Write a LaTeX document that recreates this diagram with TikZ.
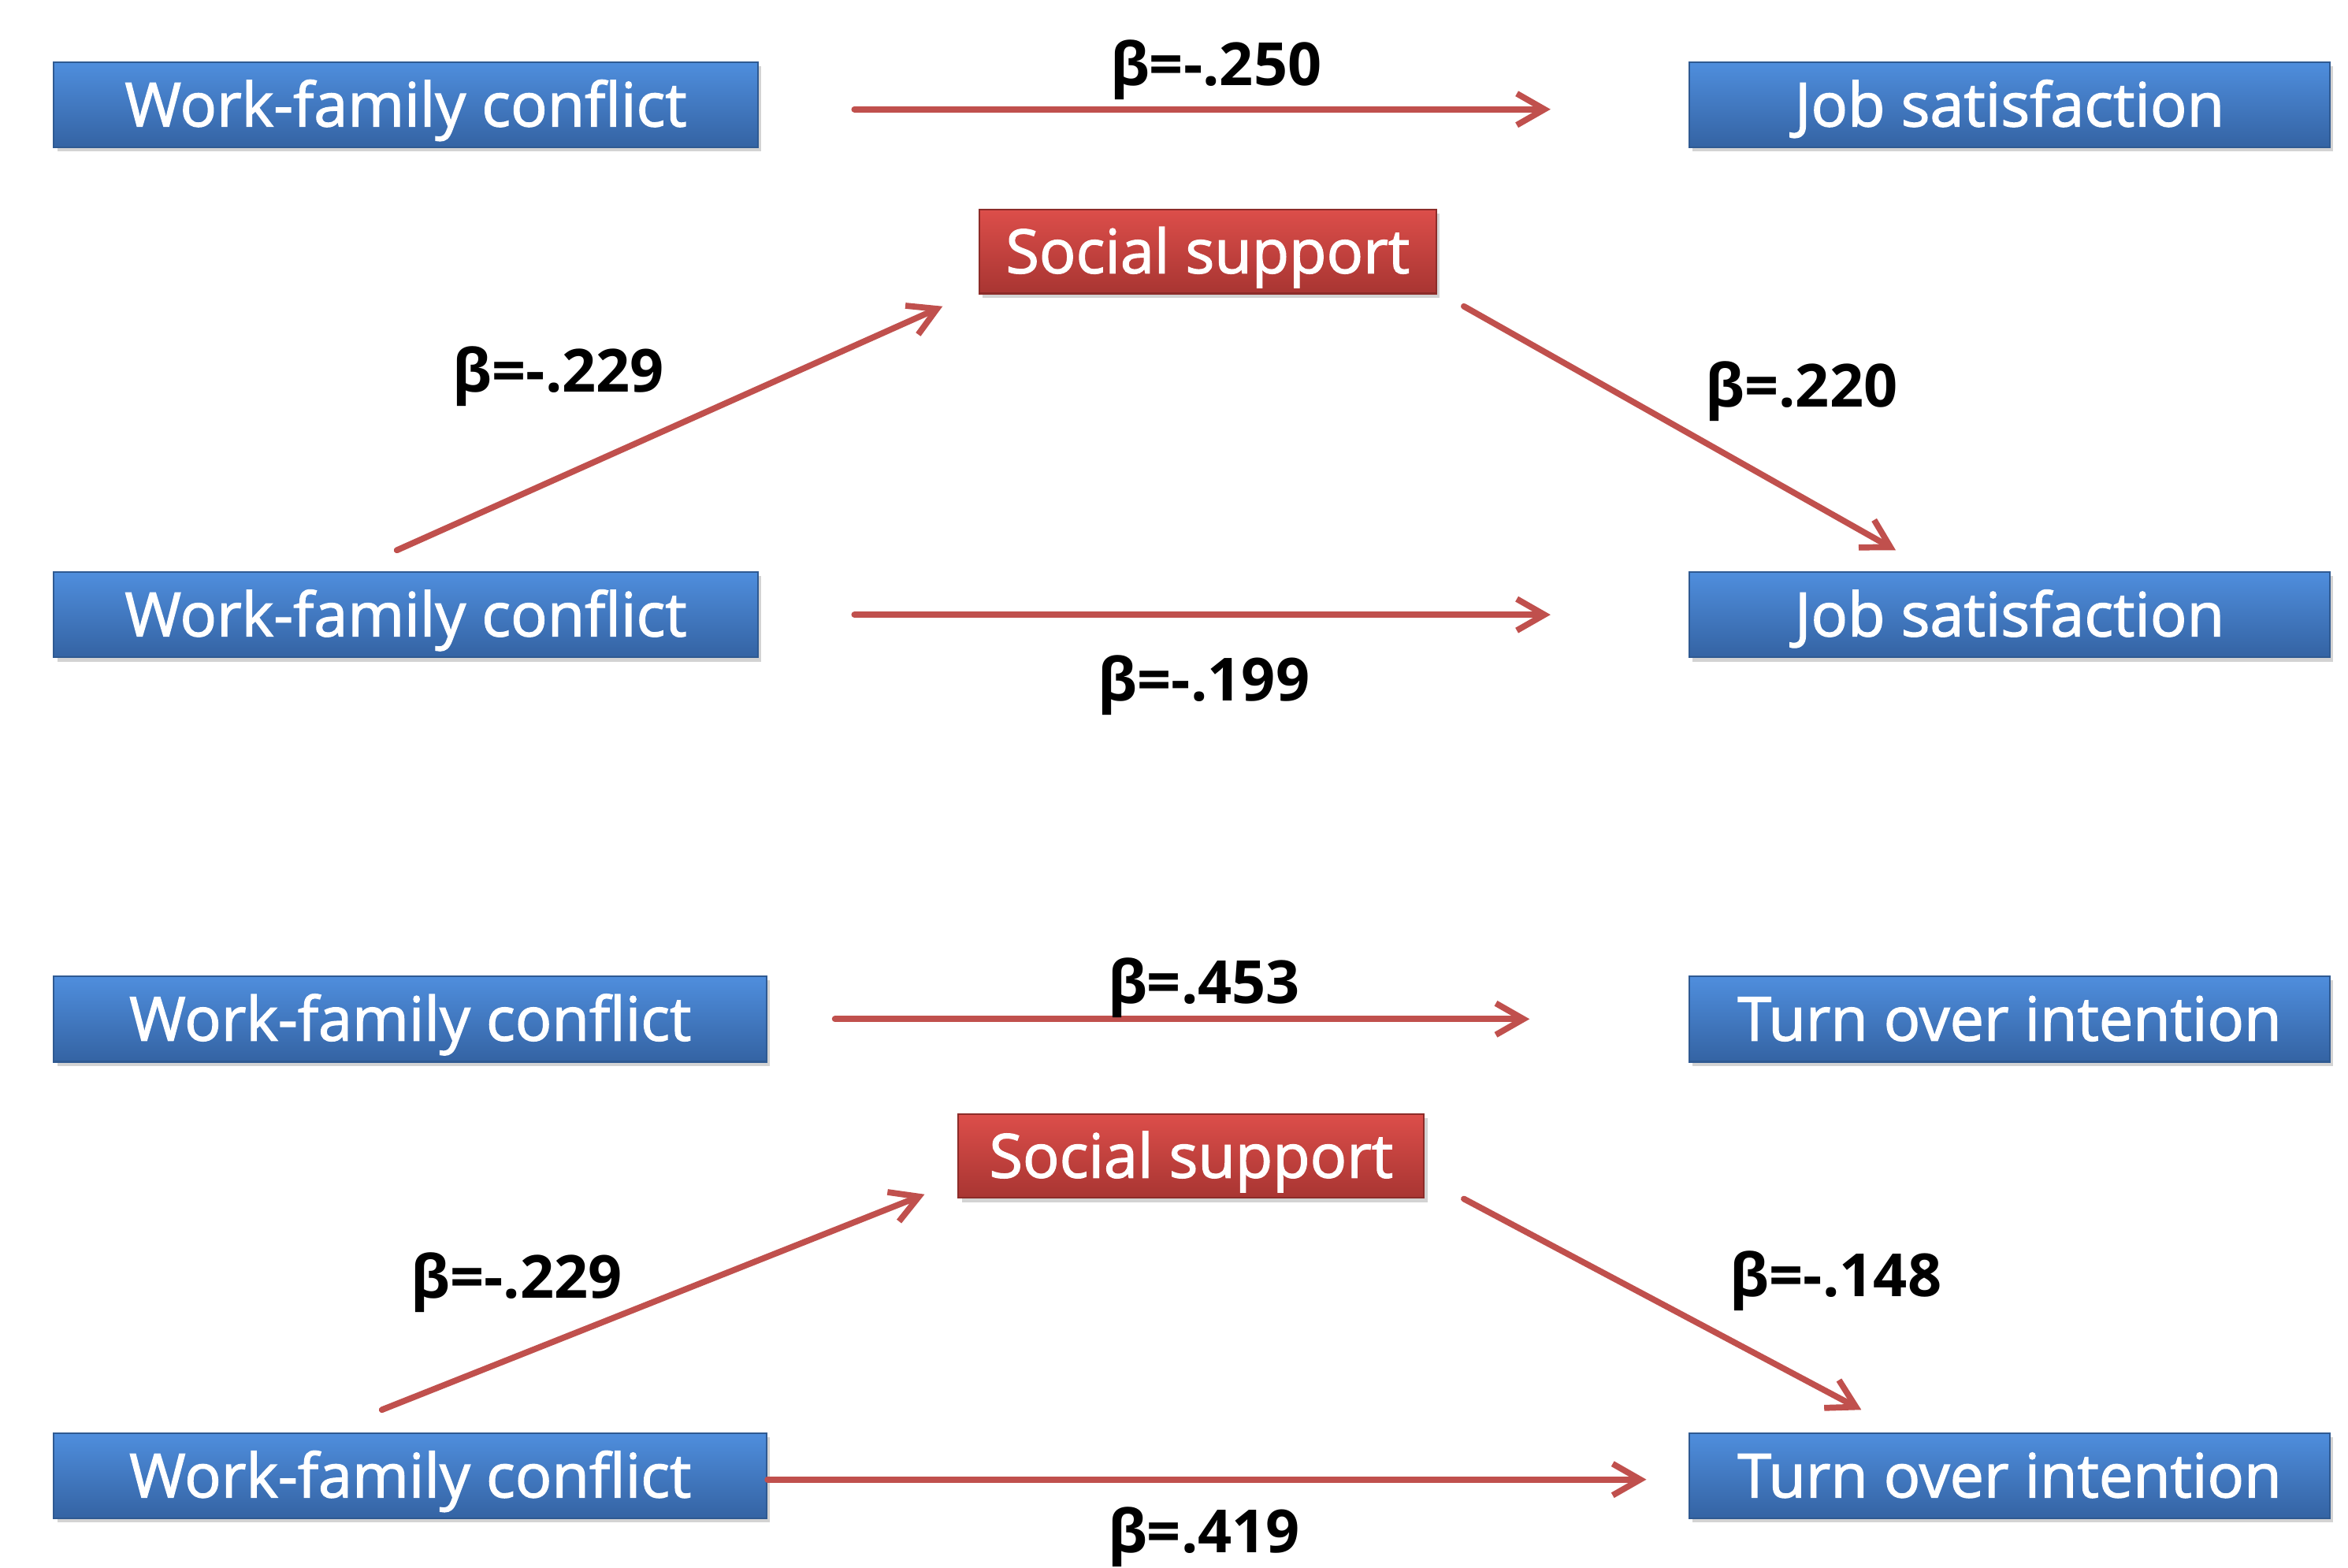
\documentclass[tikz,border=0pt]{standalone}
\usepackage{fontspec}
\setmainfont{Open Sans}
\newfontfamily\boxfont{Open Sans}[FakeBold=1.7]
\usetikzlibrary{arrows.meta,positioning,calc,shadows}
\definecolor{bluetop}{HTML}{4F8EDD}
\definecolor{bluebot}{HTML}{3463A3}
\definecolor{blueline}{HTML}{2F5A92}
\definecolor{redtop}{HTML}{DC4E4A}
\definecolor{redbot}{HTML}{A83532}
\definecolor{redline}{HTML}{8C2C29}
\definecolor{arrowred}{HTML}{C0504D}
\newlength\px
\setlength\px{0.019005cm}
\tikzset{
  var/.style    = {draw=blueline, line width=0.6pt, top color=bluetop, bottom color=bluebot,
                   text=white, minimum height=57\px, inner sep=0pt, text height=15.6pt, text depth=0pt,
                   font=\boxfont\fontsize{22}{24}\selectfont,
                   drop shadow={shadow xshift=1.2pt, shadow yshift=-1.5pt, opacity=0.35}},
  mod/.style    = {var, draw=redline, top color=redtop, bottom color=redbot, minimum height=56\px},
  effect/.style = {-{Straight Barb[length=3.5mm, width=4mm]}, draw=arrowred, line width=2.2pt,
                   line cap=round},
  coef/.style   = {font=\bfseries\fontsize{21.5}{24}\selectfont, anchor=base, inner sep=0pt},
}

\begin{document}
\begin{tikzpicture}[x=\px, y=-\px]
  \useasboundingbox (0,0) rectangle (1568,1047);

  % job satisfaction model
  \node[var, minimum width=470\px] (wfcA) at (271,70) {Work-family conflict};
  \node[var, minimum width=428\px] (jsA) at (1342,70) {Job satisfaction};
  \node[mod, minimum width=305\px] (ssA) at (806.5,168) {Social support};
  \node[var, minimum width=470\px] (wfcB) at (271,410.5) {Work-family conflict};
  \node[var, minimum width=428\px] (jsB) at (1342,410.5) {Job satisfaction};

  \draw[effect] ($(wfcA.east)+(64,3)$) -- ($(jsA.west)+(-92,3)$);
  \draw[effect] ($(wfcB.north)+(-6,-14)$) -- ($(ssA.south west)+(-24,8)$);
  \draw[effect] ($(ssA.south east)+(18,8)$) -- ($(jsB.north)+(-76,-14)$);
  \draw[effect] ($(wfcB.east)+(64,0)$) -- ($(jsB.west)+(-92,0)$);

  \node[coef] (cA) at (812,57) {β=-.250};
  \node[coef] (cB) at (373,262) {β=-.229};
  \node[coef] (cC) at (1203,272) {β=.220};
  \node[coef] (cD) at (804,468) {β=-.199};

  % turnover intention model
  \node[var, minimum width=476\px] (wfcC) at (274,680.5) {Work-family conflict};
  \node[var, minimum width=428\px] (toiA) at (1342,680.5) {Turn over intention};
  \node[mod, minimum width=311\px] (ssB) at (795.5,772) {Social support};
  \node[var, minimum width=476\px] (wfcD) at (274,985.5) {Work-family conflict};
  \node[var, minimum width=428\px] (toiB) at (1342,985.5) {Turn over intention};

  \draw[effect] ($(wfcC.east)+(45,0)$) -- ($(toiA.west)+(-106,0)$);
  \draw[effect] ($(wfcD.north)+(-19,-15)$) -- ($(ssB.south west)+(-22,-3)$);
  \draw[effect] ($(ssB.south east)+(26,0)$) -- ($(toiB.north)+(-99,-15)$);
  \draw[effect] ($(wfcD.east)+(0,2.5)$) -- ($(toiB.west)+(-28,2.5)$);

  \node[coef] (cE) at (804,670) {β=.453};
  \node[coef] (cF) at (345,867) {β=-.229};
  \node[coef] (cG) at (1226,866) {β=-.148};
  \node[coef] (cH) at (804,1037) {β=.419};
\end{tikzpicture}
\end{document}
